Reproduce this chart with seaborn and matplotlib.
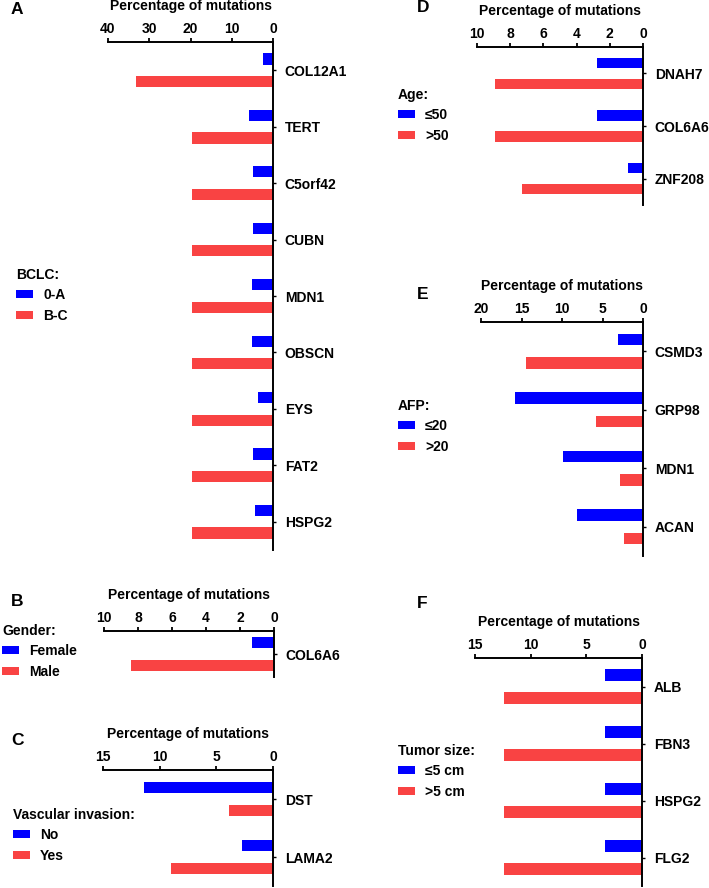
import numpy as np
import pandas as pd
import matplotlib
matplotlib.use("Agg")
import matplotlib.pyplot as plt
import seaborn as sns

# Panel A - BCLC
genes_a = ["COL12A1", "TERT", "C5orf42", "CUBN", "MDN1", "OBSCN", "EYS", "FAT2", "HSPG2"]
bclc_0a = [2.4, 5.8, 4.8, 4.8, 5.2, 5.1, 3.6, 4.8, 4.3]
bclc_bc = [33.1, 19.6, 19.6, 19.6, 19.6, 19.6, 19.6, 19.6, 19.6]

# Panel B - Gender
genes_b = ["COL6A6"]
female = [1.3]
male = [8.4]

# Panel C - Vascular invasion
genes_c = ["DST", "LAMA2"]
vasc_no = [11.4, 2.7]
vasc_yes = [3.9, 9.0]

# Panel D - Age
genes_d = ["DNAH7", "COL6A6", "ZNF208"]
age_low = [2.8, 2.8, 0.9]
age_high = [8.9, 8.9, 7.3]

# Panel E - AFP
genes_e = ["CSMD3", "GRP98", "MDN1", "ACAN"]
afp_low = [3.1, 15.8, 9.9, 8.2]
afp_high = [14.4, 5.8, 2.9, 2.3]

# Panel F - Tumor size
genes_f = ["ALB", "FBN3", "HSPG2", "FLG2"]
size_low = [3.3, 3.3, 3.3, 3.3]
size_high = [12.4, 12.4, 12.4, 12.4]

BLUE = "#0000FF"
RED = "#F94343"
W, H = 709, 888

sns.set_theme(style="ticks", rc={"text.color": "black", "axes.labelcolor": "black",
                                 "xtick.color": "black", "ytick.color": "black",
                                 "axes.edgecolor": "black"})
plt.rcParams["font.family"] = ["Liberation Sans", "DejaVu Sans"]
plt.rcParams["font.weight"] = "bold"

fig = plt.figure(figsize=(W / 100, H / 100), dpi=100)


def px_axes(left, right, top, bottom):
    return fig.add_axes([left / W, 1 - bottom / H, (right - left) / W, (bottom - top) / H])


def panel(box, genes, low, high, levels, xmax, step, legend_title, legend_xy, letter, letter_xy, width=0.8):
    ax = px_axes(*box)
    df = pd.DataFrame({
        "gene": genes * 2,
        "pct": list(low) + list(high),
        "grupo": [levels[0]] * len(genes) + [levels[1]] * len(genes),
    })
    sns.barplot(data=df, x="pct", y="gene", hue="grupo", hue_order=levels,
                palette=[BLUE, RED], saturation=1, orient="h", errorbar=None,
                width=width, gap=0.5, linewidth=0, ax=ax)
    ax.set_xlim(xmax, 0)
    ax.set_xticks(np.arange(0, xmax + 0.01, step))
    ax.xaxis.tick_top()
    ax.xaxis.set_label_position("top")
    ax.yaxis.tick_right()
    ax.set_ylabel("")
    ax.set_xlabel("Percentage of mutations", fontsize=10, fontweight="bold", labelpad=8.5)
    for s in ["left", "bottom"]:
        ax.spines[s].set_visible(False)
    for s in ["top", "right"]:
        ax.spines[s].set_linewidth(1.4)
    ax.tick_params(axis="x", direction="out", length=3, width=1.3, pad=1.5, labelsize=10)
    ax.tick_params(axis="y", direction="out", length=2.5, width=1.0, pad=6, labelsize=10)
    for t in ax.get_xticklabels() + ax.get_yticklabels():
        t.set_fontweight("bold")

    sns.move_legend(ax, "upper left", bbox_to_anchor=(legend_xy[0] / W, 1 - legend_xy[1] / H),
                    bbox_transform=fig.transFigure, frameon=False, borderpad=0, borderaxespad=0,
                    title=legend_title, alignment="left", handlelength=1.25, handleheight=0.5,
                    handletextpad=0.7, labelspacing=0.45,
                    prop={"size": 10, "weight": "bold"},
                    title_fontproperties={"size": 10, "weight": "bold"})
    fig.text(letter_xy[0] / W, 1 - letter_xy[1] / H, letter, fontsize=12.5, fontweight="bold",
             ha="left", va="center")
    return ax


panel((108, 273, 42, 550), genes_a, bclc_0a, bclc_bc, ["0-A", "B-C"], 40, 10,
      "BCLC:", (16, 268), "A", (11, 9))
panel((104, 274, 631, 677), genes_b, female, male, ["Female", "Male"], 10, 2,
      "Gender:", (2, 624), "B", (11, 601), width=0.96)
panel((103, 273, 770, 886), genes_c, vasc_no, vasc_yes, ["No", "Yes"], 15, 5,
      "Vascular invasion:", (13, 808), "C", (11, 740))
panel((477, 643, 47, 205), genes_d, age_low, age_high, ["≤50", ">50"], 10, 2,
      "Age:", (398, 88), "D", (417, 8))
panel((481, 643, 322, 556), genes_e, afp_low, afp_high, ["≤20", ">20"], 20, 5,
      "AFP:", (398, 399), "E", (417, 294))
panel((475, 642, 658, 886), genes_f, size_low, size_high, ["≤5 cm", ">5 cm"], 15, 5,
      "Tumor size:", (398, 744), "F", (417, 603))

fig.savefig("out.png", dpi=100)
